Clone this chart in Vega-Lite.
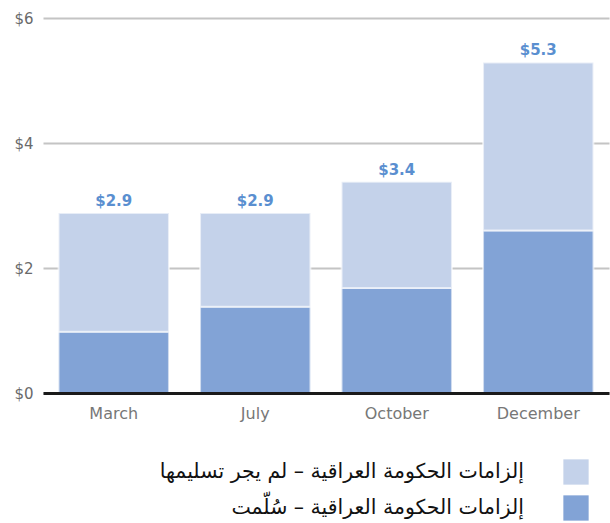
{
  "$schema": "https://vega.github.io/schema/vega-lite/v6.json",
  "autosize": "none",
  "width": 566,
  "height": 375,
  "padding": {"left": 43, "top": 18, "right": 1, "bottom": 130},
  "background": "white",
  "config": {"view": {"stroke": null}, "font": "DejaVu Sans"},
  "data": {"values": [
    {"month": "March", "series": "إلزامات الحكومة العراقية – سُلّمت", "value": 0.98},
    {"month": "March", "series": "إلزامات الحكومة العراقية – لم يجر تسليمها", "value": 1.9},
    {"month": "July", "series": "إلزامات الحكومة العراقية – سُلّمت", "value": 1.38},
    {"month": "July", "series": "إلزامات الحكومة العراقية – لم يجر تسليمها", "value": 1.5},
    {"month": "October", "series": "إلزامات الحكومة العراقية – سُلّمت", "value": 1.68},
    {"month": "October", "series": "إلزامات الحكومة العراقية – لم يجر تسليمها", "value": 1.7},
    {"month": "December", "series": "إلزامات الحكومة العراقية – سُلّمت", "value": 2.6},
    {"month": "December", "series": "إلزامات الحكومة العراقية – لم يجر تسليمها", "value": 2.69}
  ]},
  "encoding": {
    "x": {"field": "month", "type": "nominal", "sort": ["March", "July", "October", "December"],
      "scale": {"paddingInner": 0.22, "paddingOuter": 0.11},
      "axis": {"title": null, "labelAngle": 0, "ticks": false, "domain": true, "domainColor": "#1a1a1a", "domainWidth": 3, "zindex": 1,
        "labelFont": "DejaVu Sans", "labelFontSize": 16, "labelColor": "#777777", "labelPadding": 12}}
  },
  "layer": [
    {
      "mark": {"type": "bar", "stroke": "#ffffff", "strokeOpacity": 0.6, "strokeWidth": 2},
      "encoding": {
        "y": {"field": "value", "type": "quantitative", "aggregate": "sum", "stack": "zero",
          "scale": {"domain": [0, 6], "nice": false},
          "axis": {"title": null, "values": [0, 2, 4, 6], "format": "$.0f", "domain": false, "ticks": false,
            "grid": true, "gridColor": "#c4c4c4", "gridWidth": 2,
            "labelFont": "DejaVu Sans", "labelFontSize": 15, "labelColor": "#6a6a6a", "labelPadding": 10}},
        "color": {"field": "series", "type": "nominal",
          "scale": {"domain": ["إلزامات الحكومة العراقية – لم يجر تسليمها", "إلزامات الحكومة العراقية – سُلّمت"], "range": ["#c4d2ea", "#82a3d6"]},
          "legend": {"title": null, "orient": "none", "legendX": 520, "legendY": 441, "direction": "vertical",
            "symbolType": "square", "symbolSize": 640, "symbolStrokeWidth": 0, "symbolOpacity": 1,
            "labelAlign": "right", "labelOffset": -65, "labelFontSize": 20.5, "labelColor": "#111111", "labelLimit": 500,
            "rowPadding": 10, "labelFont": "DejaVu Sans"}},
        "order": {"field": "series", "sort": "ascending"}
      }
    },
    {
      "mark": {"type": "rule", "stroke": "#bdbdbd", "strokeWidth": 9, "opacity": 0.55},
      "encoding": {"y": {"datum": 0}}
    },
    {
      "transform": [{"aggregate": [{"op": "sum", "field": "value", "as": "total"}], "groupby": ["month"]}],
      "mark": {"type": "text", "baseline": "bottom", "dy": -4, "fontSize": 15, "fontWeight": "bold", "color": "#5a8fd0", "font": "DejaVu Sans"},
      "encoding": {
        "y": {"field": "total", "type": "quantitative"},
        "text": {"field": "total", "type": "quantitative", "format": "$.1f"}
      }
    }
  ]
}
